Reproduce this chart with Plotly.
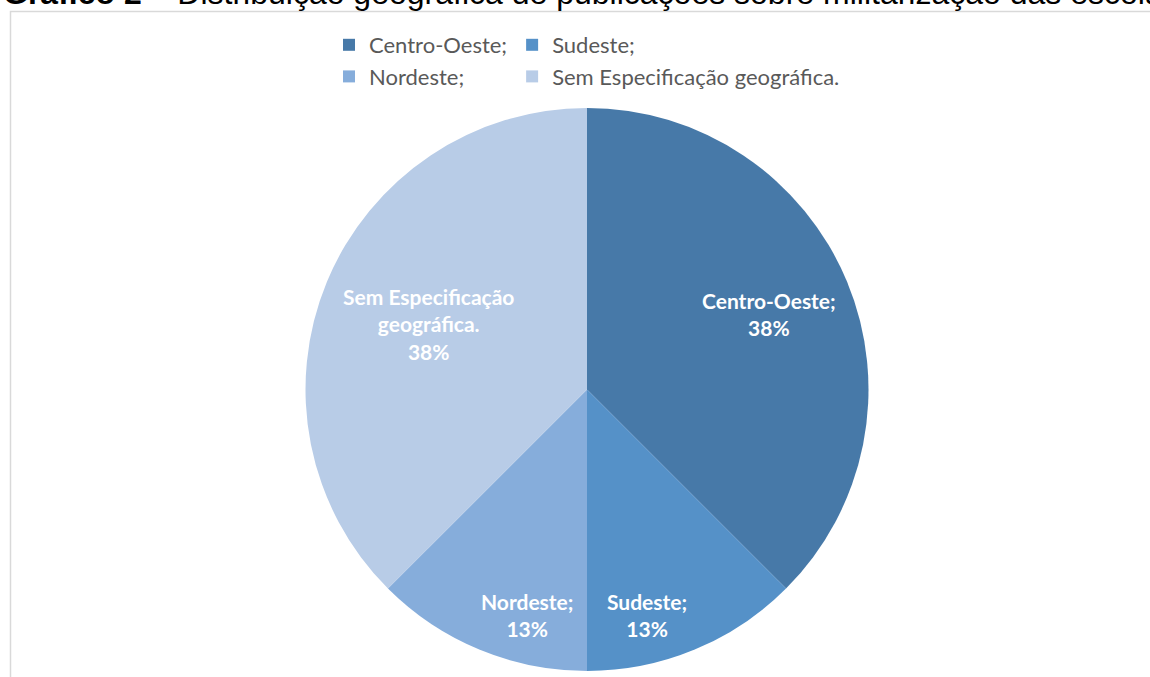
import math
import plotly.graph_objects as go

# Publications by region (counts)
regions = ["Centro-Oeste;", "Sudeste;", "Nordeste;", "Sem Especificação geográfica."]
slice_text = ["Centro-Oeste;", "Sudeste;", "Nordeste;", "Sem Especificação<br>geográfica."]
counts = [3, 1, 1, 3]
colors = ["#4779A8", "#5591C8", "#86ADDB", "#B8CCE7"]

# legend column for each region (two columns, filled row by row)
legend_column = ["c1", "c2", "c1", "c2"]

W, H = 1150, 677
ML, MR, MT, MB = 277, 253, 108, 6
PW, PH = W - ML - MR, H - MT - MB
R = min(PW, PH) / 2

# label placement inside each slice: radial fraction and angular nudge (deg)
label_radius = [0.70, 0.83, 0.83, 0.61]
label_nudge = [0.0, 7.5, -7.5, 0.0]


def px_x(x):
    return (x - ML) / PW


def px_y(y):
    return 1 - (y - MT) / PH


fig = go.Figure()

fig.add_trace(
    go.Pie(
        labels=regions,
        values=counts,
        sort=False,
        direction="clockwise",
        rotation=0,
        marker=dict(colors=colors, line=dict(width=0)),
        textinfo="none",
        hoverinfo="label+percent",
        showlegend=False,
    )
)

# legend entries, one per region, grouped into two columns
for name, color, col in zip(regions, colors, legend_column):
    fig.add_trace(
        go.Scatter(
            x=[None],
            y=[None],
            mode="markers",
            name=name,
            legendgroup=col,
            marker=dict(symbol="square", size=12, color=color, line=dict(width=0)),
            hoverinfo="skip",
        )
    )

# slice labels at the middle angle of each slice
total = sum(counts)
annotations = []
cum = 0
for i, (txt, v) in enumerate(zip(slice_text, counts)):
    mid = (cum + v / 2) / total * 360 + label_nudge[i]
    cum += v
    a = math.radians(mid)
    r = label_radius[i] * R
    pct = round(100 * v / total + 1e-9)
    annotations.append(
        dict(
            text=f"<b>{txt}<br>{pct}%</b>",
            xref="paper",
            yref="paper",
            x=0.5 + r * math.sin(a) / PW,
            y=0.5 + r * math.cos(a) / PH,
            xanchor="center",
            yanchor="middle",
            align="center",
            showarrow=False,
            font=dict(family="Lato", size=21, color="white"),
        )
    )

annotations.append(
    dict(
        text="<b>Gráfico 2</b> – Distribuição geográfica de publicações sobre militarização das escolas",
        xref="paper",
        yref="paper",
        x=px_x(1),
        y=px_y(6),
        xanchor="left",
        yanchor="bottom",
        yshift=-7,
        showarrow=False,
        font=dict(family="Arial, Liberation Sans", size=32, color="black"),
    )
)

fig.update_layout(
    width=W,
    height=H,
    margin=dict(l=ML, r=MR, t=MT, b=MB),
    paper_bgcolor="white",
    plot_bgcolor="white",
    xaxis=dict(visible=False),
    yaxis=dict(visible=False),
    showlegend=True,
    legend=dict(
        orientation="h",
        traceorder="grouped",
        tracegroupgap=0,
        x=px_x(329),
        xanchor="left",
        y=px_y(24),
        yanchor="top",
        font=dict(family="Lato", size=22, color="#595959"),
        bgcolor="rgba(0,0,0,0)",
    ),
    shapes=[
        dict(
            type="rect",
            xref="paper",
            yref="paper",
            x0=px_x(10.5),
            y0=px_y(700),
            x1=px_x(1170),
            y1=px_y(11.5),
            line=dict(color="#D9D9D9", width=1.5),
            fillcolor="rgba(0,0,0,0)",
            layer="below",
        )
    ],
    annotations=annotations,
)

fig.write_html("out.html")
